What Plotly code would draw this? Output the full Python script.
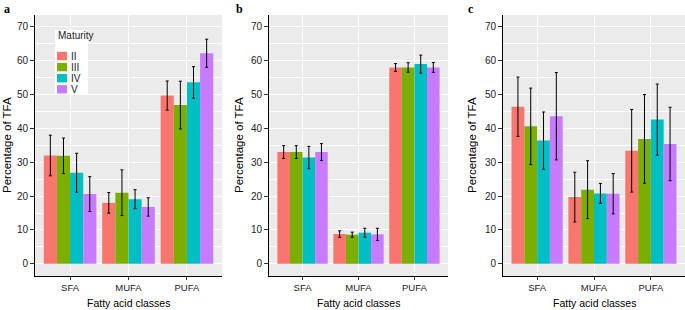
import plotly.graph_objects as go

categories = ["SFA", "MUFA", "PUFA"]
maturity = ["II", "III", "IV", "V"]
colors = ["#F8766D", "#7CAE00", "#00BFC4", "#C77CFF"]

# panel a: means and sd per maturity stage (SFA, MUFA, PUFA)
a_mean = {"II": [32.0, 18.0, 49.7], "III": [31.9, 21.0, 46.9],
          "IV": [26.9, 19.1, 53.6], "V": [20.6, 16.8, 62.2]}
a_sd = {"II": [6.0, 3.05, 4.3], "III": [5.25, 6.75, 7.05],
        "IV": [5.75, 2.8, 4.65], "V": [5.15, 2.7, 4.15]}
# panel b
b_mean = {"II": [33.0, 8.8, 58.0], "III": [33.0, 8.6, 58.0],
          "IV": [31.4, 9.2, 59.0], "V": [33.0, 8.7, 58.0]}
b_sd = {"II": [1.9, 0.95, 1.15], "III": [1.9, 0.75, 1.4],
        "IV": [3.3, 1.3, 2.65], "V": [2.5, 1.8, 1.45]}
# panel c
c_mean = {"II": [46.4, 19.7, 33.4], "III": [40.6, 21.9, 36.9],
          "IV": [36.4, 20.8, 42.6], "V": [43.6, 20.7, 35.4]}
c_sd = {"II": [8.75, 7.35, 12.2], "III": [11.3, 8.55, 13.1],
        "IV": [8.45, 2.95, 10.5], "V": [12.9, 5.95, 10.85]}

y_ticks = [0, 10, 20, 30, 40, 50, 60, 70]
panel_letters = ["a", "b", "c"]
x_title = "Fatty acid classes"
y_title = "Percentage of TFA"
legend_title = "Maturity"

W, H = 685, 310
FONT = "Liberation Sans, Arial, sans-serif"
fig = go.Figure()

panels = [(a_mean, a_sd), (b_mean, b_sd), (c_mean, c_sd)]
x_domains_px = [(35, 222), (269, 448), (503, 685)]
y_top_px, y_bot_px = 15, 276


def px_x(v):
    return v / W


def px_y(v):
    return 1 - v / H


for p, (means, sds) in enumerate(panels):
    sfx = "" if p == 0 else str(p + 1)
    for i, m in enumerate(maturity):
        fig.add_trace(go.Bar(
            x=categories, y=means[m], name=m,
            marker=dict(color=colors[i], line=dict(width=0)),
            error_y=dict(type="data", array=sds[m], visible=True,
                         color="black", thickness=1, width=1.5),
            xaxis="x" + sfx, yaxis="y" + sfx,
            showlegend=False,
        ))

layout = dict(
    width=W, height=H,
    margin=dict(l=0, r=0, t=0, b=0, autoexpand=False),
    paper_bgcolor="white", plot_bgcolor="#EBEBEB",
    barmode="group", bargap=0.1, bargroupgap=0,
    font=dict(family=FONT, color="#222222"),
    showlegend=False,
)

for p in range(3):
    sfx = "" if p == 0 else str(p + 1)
    x0, x1 = x_domains_px[p]
    layout["xaxis" + sfx] = dict(
        domain=[px_x(x0), px_x(x1)], anchor="y" + sfx,
        type="category", categoryorder="array", categoryarray=categories,
        range=[-0.6, 2.6],
        showgrid=True, gridcolor="white", gridwidth=1.1,
        showline=True, linecolor="black", linewidth=1,
        ticks="outside", ticklen=3, tickcolor="#333333",
        tickfont=dict(size=9.5, color="#222222", family=FONT),
        automargin=False, zeroline=False, fixedrange=True,
    )
    layout["yaxis" + sfx] = dict(
        domain=[px_y(y_bot_px), px_y(y_top_px)], anchor="x" + sfx,
        range=[-3.6, 73.5],
        tickvals=y_ticks, ticktext=[str(v) for v in y_ticks],
        showgrid=True, gridcolor="white", gridwidth=1.1,
        minor=dict(dtick=5, tick0=5, showgrid=True, gridcolor="white",
                   gridwidth=0.5, ticks=""),
        showline=True, linecolor="black", linewidth=1,
        ticks="outside", ticklen=4, tickcolor="#333333",
        tickfont=dict(size=10, color="#222222", family=FONT),
        automargin=False, zeroline=False, fixedrange=True,
    )

fig.update_layout(**layout)

# axis titles and panel letters
y_title_x_px = [7, 239, 472]
letter_x_px = [2, 234, 466]
for p in range(3):
    x0, x1 = x_domains_px[p]
    fig.add_annotation(text=x_title, xref="paper", yref="paper",
                       x=px_x((x0 + x1) / 2), y=px_y(303), xanchor="center", yanchor="middle",
                       showarrow=False, font=dict(family=FONT, size=10.5, color="black"))
    fig.add_annotation(text=y_title, xref="paper", yref="paper", textangle=-90,
                       x=px_x(y_title_x_px[p]), y=px_y(145), xanchor="center", yanchor="middle",
                       showarrow=False, font=dict(family=FONT, size=11.5, color="black"))
    fig.add_annotation(text="<b>" + panel_letters[p] + "</b>", xref="paper", yref="paper",
                       x=px_x(letter_x_px[p]), y=px_y(0), xanchor="left", yanchor="top",
                       showarrow=False,
                       font=dict(family="Liberation Serif, Times New Roman, serif",
                                 size=12, color="black"))

# legend drawn inside panel a
shapes = [dict(type="rect", xref="paper", yref="paper",
               x0=px_x(55), x1=px_x(88), y0=px_y(94), y1=px_y(30),
               fillcolor="white", line=dict(width=0), layer="above")]
fig.add_annotation(text=legend_title, xref="paper", yref="paper",
                   x=px_x(56), y=px_y(36), xanchor="left", yanchor="middle",
                   showarrow=False, font=dict(family=FONT, size=10, color="#222222"))
for i, m in enumerate(maturity):
    cy = 56 + i * 11.1
    shapes.append(dict(type="rect", xref="paper", yref="paper",
                       x0=px_x(57), x1=px_x(67), y0=px_y(cy + 4.2), y1=px_y(cy - 4.2),
                       fillcolor=colors[i], line=dict(width=0), layer="above"))
    fig.add_annotation(text=m, xref="paper", yref="paper",
                       x=px_x(68.5), y=px_y(cy), xanchor="left", yanchor="middle",
                       showarrow=False, font=dict(family=FONT, size=10, color="#222222"))
fig.update_layout(shapes=shapes)

fig.write_html("out.html", config={"displayModeBar": False},
               post_script="document.body.style.margin='0';document.body.style.overflow='hidden';")
